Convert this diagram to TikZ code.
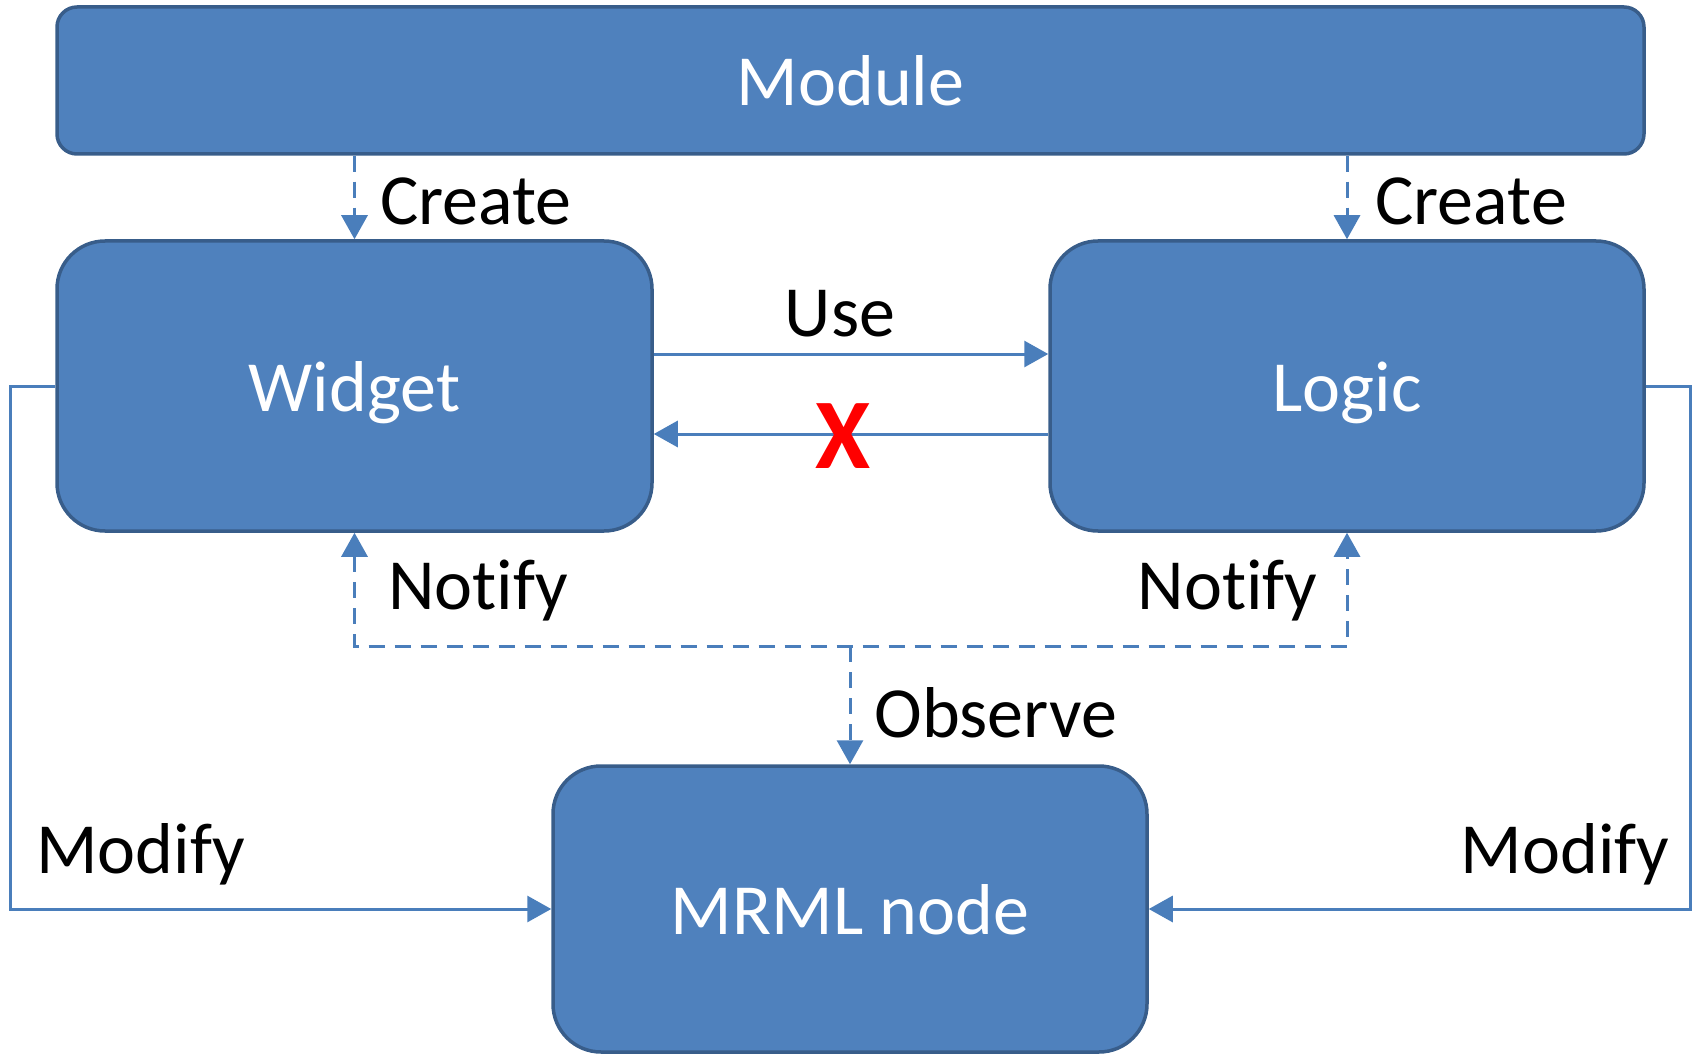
\documentclass[tikz,border=0pt]{standalone}
\usepackage{fontspec}
\setmainfont{Carlito}[Ligatures={NoCommon}]
\usetikzlibrary{arrows.meta,calc}
\definecolor{boxfill}{HTML}{4F81BD}
\definecolor{boxline}{HTML}{385D8A}
\definecolor{conncol}{HTML}{4A7EBB}
\tikzset{
  blk/.style={draw=boxline, fill=boxfill, line width=1.75pt, inner sep=0pt,
    text=white, font=\fontsize{36}{43}\selectfont, text height=25pt, text depth=0pt},
  conn/.style={draw=conncol, line width=1.5pt, -{Triangle[length=12pt,width=13pt]}},
  dconn/.style={conn, dash pattern=on 8pt off 5pt},
  lbl/.style={inner sep=0pt, font=\fontsize{36}{43}\selectfont, text=black}
}
\begin{document}
\begin{tikzpicture}[x=0.5pt,y=-0.5pt]
\useasboundingbox (0,0) rectangle (1694,1054);
\node[blk, rounded corners=10pt, minimum width=793.5pt, minimum height=73.5pt] (Module) at (850.5,80.5) {Module};
\node[blk, rounded corners=24pt, minimum width=297.5pt, minimum height=145pt] (Widget) at (354.5,386) {Widget};
\node[blk, rounded corners=24pt, minimum width=297pt, minimum height=145pt] (Logic) at (1347,386) {Logic};
\node[blk, rounded corners=24pt, minimum width=297pt, minimum height=143pt] (MRML) at (850,909) {MRML node};

% Create
\draw[dconn] (Module.south -| Widget.north) -- (Widget.north);
\draw[dconn] (Module.south -| Logic.north) -- (Logic.north);
\node[lbl, anchor=base west] (lc1) at (380,225) {Create};
\node[lbl, anchor=base west] (lc2) at (1375,225) {Create};

% Use and forbidden back arrow
\coordinate (u1) at ($(Widget.east)+(0,-32)$);
\draw[conn] (u1) -- (u1 -| Logic.west);
\node[lbl, anchor=base] (luse) at (840,336) {Use};
\coordinate (b1) at ($(Logic.west)+(0,48)$);
\draw[conn] (b1) -- (b1 -| Widget.east);
\node[inner sep=0pt, text=red, font=\fontsize{50}{60}\selectfont\bfseries] (lx) at (843,436) {X};

% Modify
\coordinate (ml) at (10,0);
\coordinate (mr) at (1690,0);
\draw[conn] (Widget.west) -- (Widget.west -| ml) -- (ml |- MRML.west) -- (MRML.west);
\draw[conn] (Logic.east) -- (Logic.east -| mr) -- (mr |- MRML.east) -- (MRML.east);
\node[lbl, anchor=base west] (lm1) at (36,873) {Modify};
\node[lbl, anchor=base east] (lm2) at (1670,873) {Modify};

% Notify / Observe
\coordinate (bus) at (0,646);
\draw[dconn, {Triangle[length=12pt,width=13pt]}-{Triangle[length=12pt,width=13pt]}]
  (Widget.south) -- (Widget.south |- bus) -- (Logic.south |- bus) -- (Logic.south);
\draw[dconn] (MRML.north |- bus) -- (MRML.north);
\node[lbl, anchor=base west] (ln1) at (388,609) {Notify};
\node[lbl, anchor=base east] (ln2) at (1318,609) {Notify};
\node[lbl, anchor=base west] (lo) at (874,737) {Observe};
\end{tikzpicture}
\end{document}
